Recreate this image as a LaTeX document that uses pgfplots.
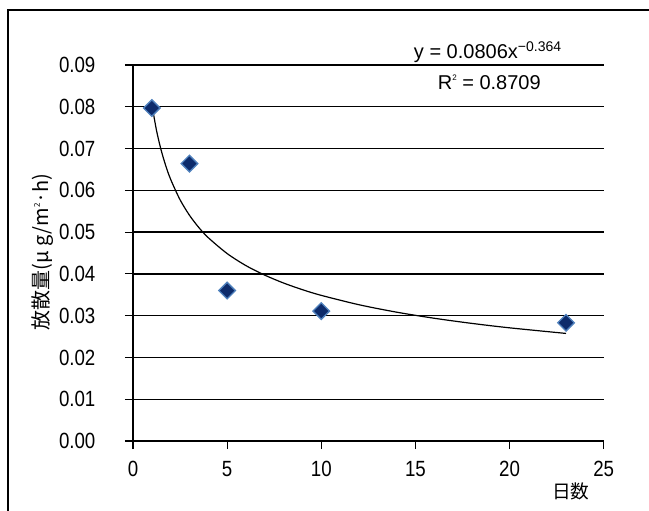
\documentclass[border=0pt]{standalone}
\usepackage{fontspec}
\setmainfont{Liberation Sans}[FakeStretch=0.85]
\newfontfamily\eqfont{Liberation Sans}
\newfontfamily\jpfont{Noto Sans CJK JP}
\usepackage{pgfplots}
\pgfplotsset{compat=1.18}
\definecolor{mkfill}{HTML}{0D2B6B}
\definecolor{mkedge}{HTML}{4F81BD}

\begin{document}
\begin{tikzpicture}[x=0.75pt,y=0.75pt]
% page = 649 x 510 px, axis origin at (133,441)
\useasboundingbox (-133,-69) rectangle (516,441);
\clip (-133,-69) rectangle (516,441);
\draw[line width=1.5] (-125,-90) rectangle (540,431);
\begin{axis}[
  scale only axis,
  width=353pt, height=282pt,
  xmin=0, xmax=25, ymin=0, ymax=0.09,
  xtick={0,5,...,25},
  ytick={0,0.01,...,0.09},
  axis x line*=bottom, axis y line*=left,
  axis line style={line width=1pt, -},
  tick align=outside,
  major tick length=6pt,
  tick style={black, line width=0.9pt},
  ymajorgrids, grid style={black, line width=1pt},
  /pgf/number format/assume math mode=true,
  yticklabel style={/pgf/number format/fixed, /pgf/number format/fixed zerofill,
    /pgf/number format/precision=2, inner sep=0pt, xshift=-22pt},
  ticklabel style={font=\fontsize{16.5pt}{16.5pt}\selectfont},
  xticklabel style={inner sep=0pt, yshift=-9pt},
  scaled y ticks=false,
  xlabel={\jpfont 日数},
  xlabel style={at={(axis description cs:0.93,0)}, anchor=center, yshift=-38pt,
    font=\fontsize{14pt}{14pt}\selectfont},
  ylabel={\jpfont 放散量(μ g/m\raisebox{0.75ex}{\fontsize{6pt}{6pt}\selectfont 2}·h)},
  ylabel style={at={(axis description cs:-0.193,0.503)}, anchor=center,
    font=\fontsize{15pt}{15pt}\selectfont},
  clip=false,
]
% power trendline y = 0.0806 x^-0.364, values read at sample days
\addplot[black, line width=0.9pt, smooth] coordinates {
  (1,0.08060) (1.25,0.07431) (1.5,0.06954) (1.75,0.06575) (2,0.06263)
  (2.5,0.05774) (3,0.05403) (3.5,0.05108) (4,0.04866) (5,0.04487)
  (6,0.04198) (7,0.03970) (8,0.03781) (9,0.03622) (10,0.03486)
  (12,0.03262) (14,0.03084) (16,0.02938) (18,0.02815) (20,0.02709)
  (23,0.02575)};
\addplot[only marks, mark=square*, mark size=4.4pt,
  mark options={rotate=45, fill=mkfill, draw=mkedge, line width=1pt}]
  coordinates {(1,0.0797) (3,0.0664) (5,0.0360) (10,0.0311) (23,0.0283)};
\node[anchor=center, font=\eqfont\fontsize{15pt}{15pt}\selectfont]
  at (axis description cs:0.754,1.034) {y = 0.0806x\textsuperscript{−0.364}};
\node[anchor=center, font=\eqfont\fontsize{15pt}{15pt}\selectfont]
  at (axis description cs:0.757,0.955) {R\raisebox{0.85ex}{\fontsize{6pt}{6pt}\selectfont 2} = 0.8709};
\end{axis}
\end{tikzpicture}
\end{document}
